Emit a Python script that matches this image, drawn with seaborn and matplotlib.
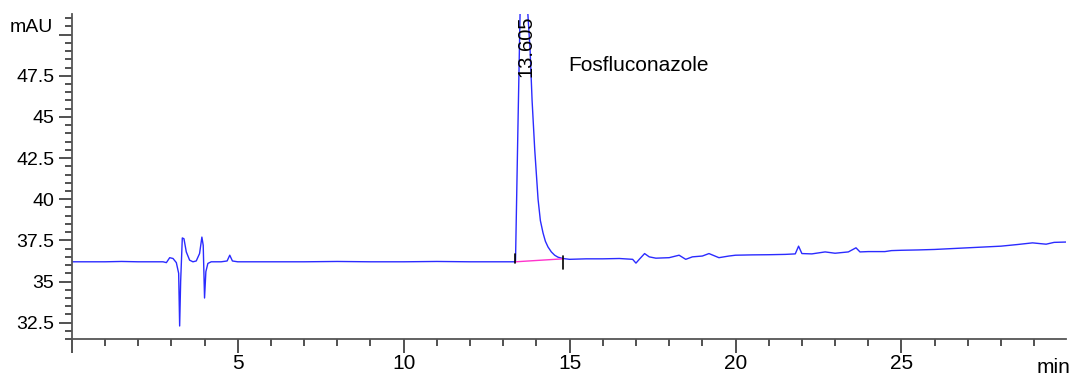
import matplotlib
matplotlib.use("Agg")
import matplotlib.pyplot as plt
import seaborn as sns
import pandas as pd
from matplotlib.ticker import MultipleLocator, FuncFormatter

# ---- data ----
time_min = [0.0, 0.5, 1.0, 1.5, 2.0, 2.5, 2.75, 2.85, 2.95, 3.05, 3.15, 3.22, 3.25, 3.28,
            3.33, 3.38, 3.45, 3.55, 3.65, 3.75, 3.85, 3.92, 3.96, 4.0, 4.04, 4.1, 4.2,
            4.5, 4.68, 4.76, 4.84, 5.0, 6.0, 7.0, 8.0, 9.0, 10.0, 11.0, 12.0, 13.0,
            13.37, 13.44, 13.51, 13.6, 13.72, 13.81, 13.87, 13.95, 14.05, 14.12, 14.2,
            14.27, 14.35, 14.45, 14.55, 14.65, 14.8, 15.0, 15.5, 16.0, 16.5, 16.9, 17.0,
            17.1, 17.26, 17.4, 17.6, 18.0, 18.3, 18.5, 18.7, 19.0, 19.2, 19.5, 19.8,
            20.0, 20.5, 21.0, 21.5, 21.8, 21.9, 22.0, 22.3, 22.7, 23.0, 23.4, 23.63,
            23.75, 24.0, 24.5, 24.7, 25.0, 25.5, 26.0, 26.5, 27.0, 27.5, 28.0, 28.5,
            28.95, 29.2, 29.36, 29.6, 29.96]
signal_mau = [36.2, 36.2, 36.2, 36.22, 36.2, 36.2, 36.2, 36.15, 36.45, 36.4, 36.15, 35.5,
              32.3, 35.0, 37.65, 37.6, 36.8, 36.3, 36.2, 36.25, 36.7, 37.7, 37.2, 34.0,
              35.6, 36.1, 36.2, 36.2, 36.25, 36.6, 36.25, 36.2, 36.2, 36.2, 36.22, 36.2,
              36.2, 36.22, 36.2, 36.2, 36.2, 44.0, 51.5, 52.6, 52.0, 49.05, 46.0, 43.0,
              40.0, 38.7, 37.95, 37.45, 37.1, 36.8, 36.6, 36.48, 36.4, 36.35, 36.38,
              36.38, 36.4, 36.35, 36.12, 36.35, 36.7, 36.5, 36.42, 36.45, 36.6, 36.35,
              36.5, 36.55, 36.7, 36.45, 36.55, 36.6, 36.62, 36.63, 36.65, 36.68, 37.15,
              36.7, 36.68, 36.8, 36.72, 36.8, 37.05, 36.8, 36.82, 36.82, 36.88, 36.9,
              36.92, 36.95, 37.0, 37.05, 37.1, 37.15, 37.25, 37.35, 37.3, 37.27, 37.38,
              37.4]

peak_rt_label = "13.605"
peak_name = "Fosfluconazole"
baseline_t = [13.37, 14.8]
baseline_v = [36.2, 36.38]

# ---- plot ----
sns.set_style("ticks")
plt.rcParams["font.family"] = ["Liberation Sans", "DejaVu Sans"]

fig = plt.figure(figsize=(10.7, 3.77), dpi=100)
ax = fig.add_axes([0.0671, 0.0995, 0.9289, 0.8645])

df = pd.DataFrame({"t": time_min, "v": signal_mau})
sns.lineplot(data=df, x="t", y="v", ax=ax, color="#2b2bff", lw=1.0, sort=False)

# integration baseline and markers
bdf = pd.DataFrame({"t": baseline_t, "v": baseline_v})
sns.lineplot(data=bdf, x="t", y="v", ax=ax, color="#ff33cc", lw=1.0)
ax.plot([baseline_t[0]] * 2, [baseline_v[0] - 0.05, baseline_v[0] + 0.5], color="black", lw=1.2)
ax.plot([baseline_t[1]] * 2, [baseline_v[1] - 0.6, baseline_v[1] + 0.15], color="black", lw=1.2)

ax.set_xlim(0, 29.95)
ax.set_ylim(31.48, 51.28)
ax.set_xlabel("")
ax.set_ylabel("")

ax.xaxis.set_major_locator(MultipleLocator(5))
ax.xaxis.set_minor_locator(MultipleLocator(1))
ax.yaxis.set_major_locator(MultipleLocator(2.5))
ax.yaxis.set_minor_locator(MultipleLocator(0.5))

def xfmt(v, pos):
    return "" if v <= 0 else f"{v:g}"

def yfmt(v, pos):
    return "" if v >= 49.9 else f"{v:g}"

ax.xaxis.set_major_formatter(FuncFormatter(xfmt))
ax.yaxis.set_major_formatter(FuncFormatter(yfmt))

sns.despine(ax=ax)
for s in ("left", "bottom"):
    ax.spines[s].set_color("#555555")
    ax.spines[s].set_linewidth(1.3)

ax.tick_params(axis="x", which="major", length=10, width=1.2, color="#333333",
               labelsize=15, pad=0.5, labelcolor="black")
ax.tick_params(axis="x", which="minor", length=5, width=1.2, color="#333333")
ax.tick_params(axis="y", which="major", length=9.5, width=1.2, color="#333333",
               labelsize=14, pad=3, labelcolor="black")
ax.tick_params(axis="y", which="minor", length=5, width=1.2, color="#333333")

# annotations
ax.text(13.69, 47.45, peak_rt_label, rotation=90, ha="center", va="bottom",
        fontsize=14.5, color="black")
ax.text(14.95, 48.1, peak_name, ha="left", va="center", fontsize=15, color="black")

fig.text(0.0495, 0.928, "mAU", ha="right", va="center", fontsize=14, color="black")
fig.text(1.0, 0.024, "min", ha="right", va="center", fontsize=15, color="black")

fig.savefig("out.png", dpi=100)
